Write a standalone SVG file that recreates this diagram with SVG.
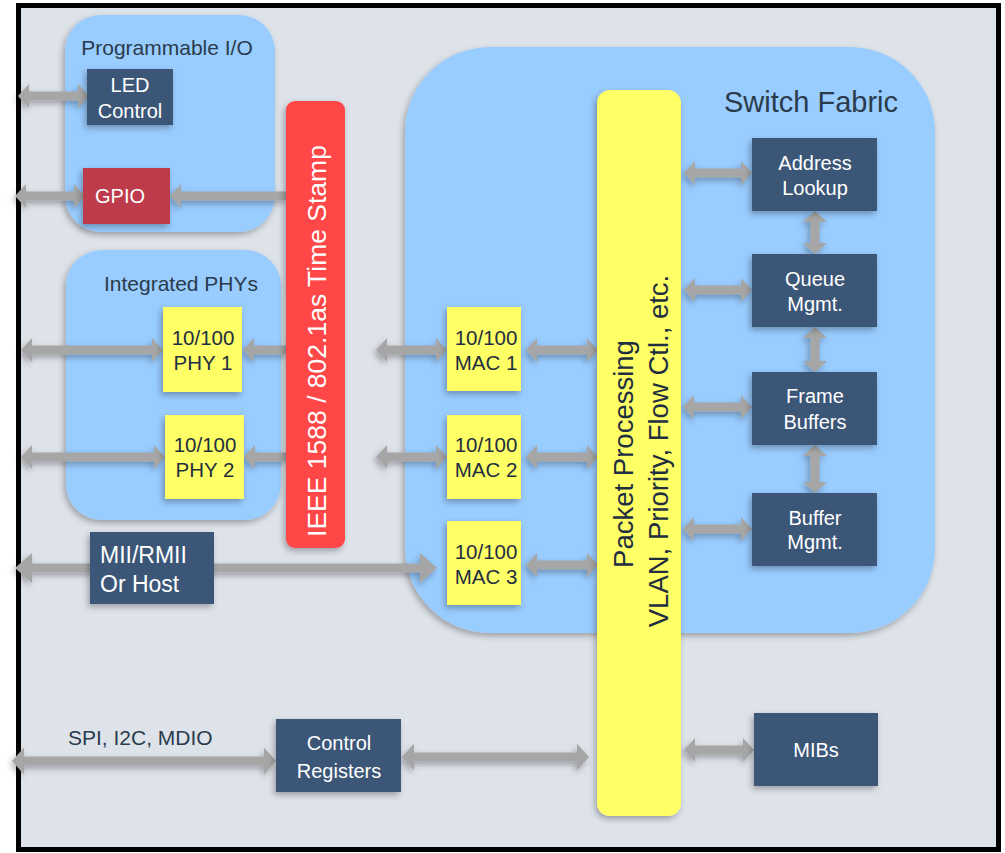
<svg xmlns="http://www.w3.org/2000/svg" width="1005" height="853" viewBox="0 0 1005 853">
<defs>
<filter id="sh" x="-20%" y="-20%" width="140%" height="140%">
<feDropShadow dx="-2" dy="3" stdDeviation="3" flood-color="#000" flood-opacity="0.3"/>
</filter>
<marker id="ah" markerUnits="userSpaceOnUse" viewBox="0 0 11 24" refX="0" refY="12" markerWidth="11" markerHeight="24" orient="auto-start-reverse"><path d="M0,0 L11,12 L0,24 Z" fill="#a6a6a6"/></marker>
<marker id="ahM" markerUnits="userSpaceOnUse" viewBox="0 0 12 27" refX="0" refY="13.5" markerWidth="12" markerHeight="27" orient="auto-start-reverse"><path d="M0,0 L12,13.5 L0,27 Z" fill="#a6a6a6"/></marker>
<marker id="ahL" markerUnits="userSpaceOnUse" viewBox="0 0 17 30" refX="0" refY="15" markerWidth="17" markerHeight="30" orient="auto-start-reverse"><path d="M0,0 L17,15 L0,30 Z" fill="#a6a6a6"/></marker>
</defs>
<style>
text{font-family:"Liberation Sans",Arial,Helvetica,sans-serif}
.cont{fill:#99ccff;filter:url(#sh)}
.dk{fill:#3b5777;filter:url(#sh)}
.yl{fill:#ffff66;filter:url(#sh)}
.tw{fill:#ffffff;font-size:20px;text-anchor:middle}
.td{fill:#1f2f40;font-size:20.5px;text-anchor:middle}
.ttl{fill:#2a3b4c}
.a{stroke:#a6a6a6;stroke-width:9;fill:none}
.aD{marker-start:url(#ah);marker-end:url(#ah)}
.aS{marker-end:url(#ah)}
</style>
<rect x="18.5" y="5.5" width="980" height="844" fill="#dee3ea" stroke="#000" stroke-width="5"/>

<g id="programmable-io">
<rect class="cont" x="65" y="15" width="210" height="217" rx="36"/>
<text class="ttl" x="167" y="55" font-size="21" text-anchor="middle">Programmable I/O</text>
</g>
<g id="integrated-phys">
<rect class="cont" x="66" y="250" width="215" height="270" rx="36"/>
<text class="ttl" x="181" y="291" font-size="21" text-anchor="middle">Integrated PHYs</text>
</g>
<g id="switch-fabric">
<rect class="cont" x="405" y="47" width="530" height="586" rx="85"/>
<text class="ttl" x="724" y="112" font-size="29">Switch Fabric</text>
</g>

<g id="connectors" filter="url(#sh)">
<line class="a aD" x1="29" y1="96" x2="78" y2="96"/>
<line class="a aD" x1="26" y1="196" x2="74" y2="196"/>
<line class="a aS" x1="287" y1="196" x2="181" y2="196"/>
<line class="a aD" x1="32" y1="350" x2="152" y2="350"/>
<line class="a aS" x1="287" y1="350" x2="254" y2="350"/>
<line class="a aD" x1="32" y1="457" x2="154" y2="457"/>
<line class="a aS" x1="287" y1="457" x2="255" y2="457"/>
<line class="a aD" x1="387" y1="350" x2="436" y2="350"/>
<line class="a aD" x1="387" y1="457" x2="436" y2="457"/>
<line class="a aD" x1="537" y1="350" x2="587" y2="350"/>
<line class="a aD" x1="537" y1="457" x2="587" y2="457"/>
<line class="a aD" x1="537" y1="565" x2="587" y2="565"/>
<line class="a aD" x1="695" y1="173" x2="741" y2="173"/>
<line class="a aD" x1="695" y1="290" x2="741" y2="290"/>
<line class="a aD" x1="694" y1="407" x2="741" y2="407"/>
<line class="a aD" x1="694" y1="529" x2="741" y2="529"/>
<line class="a aD" x1="815" y1="222" x2="815" y2="243"/>
<line class="a aD" x1="815" y1="338" x2="815" y2="361"/>
<line class="a aD" x1="815" y1="456" x2="815" y2="482"/>
<line class="a aD" x1="695" y1="750" x2="743" y2="750"/>
<line class="a" stroke-width="14" marker-start="url(#ahL)" marker-end="url(#ahL)" x1="32" y1="568" x2="420" y2="568"/>
<line class="a" stroke-width="14" marker-start="url(#ahM)" marker-end="url(#ahM)" x1="24" y1="761" x2="264" y2="761"/>
<line class="a" stroke-width="13" marker-start="url(#ahM)" marker-end="url(#ahM)" x1="414" y1="757" x2="577" y2="757"/>
</g>

<g id="ieee-1588">
<rect x="286" y="101" width="59" height="447" rx="9" fill="#ff4646" filter="url(#sh)"/>
<text transform="translate(326,341) rotate(-90)" fill="#ffffff" font-size="26.5" text-anchor="middle">IEEE 1588 / 802.1as Time Stamp</text>
</g>
<g id="packet-processing">
<rect class="yl" x="597" y="90" width="84" height="726" rx="13"/>
<text transform="translate(633,454) rotate(-90)" fill="#1f2f40" font-size="27.5" text-anchor="middle">Packet Processing</text>
<text transform="translate(668,451) rotate(-90)" fill="#1f2f40" font-size="27.5" text-anchor="middle">VLAN, Priority, Flow Ctl., etc.</text>
</g>

<g id="led-control">
<rect class="dk" x="87" y="69" width="86" height="56"/>
<text class="tw" x="130" y="92">LED</text>
<text class="tw" x="130" y="118">Control</text>
</g>
<g id="gpio">
<rect x="83" y="168" width="87" height="56" fill="#be3b4b" filter="url(#sh)"/>
<text class="tw" x="120" y="203">GPIO</text>
</g>
<g id="phy1">
<rect class="yl" x="163" y="307" width="79" height="85"/>
<text class="td" x="203" y="345">10/100</text>
<text class="td" x="203" y="370">PHY 1</text>
</g>
<g id="phy2">
<rect class="yl" x="165" y="415" width="79" height="84"/>
<text class="td" x="205" y="452">10/100</text>
<text class="td" x="205" y="477">PHY 2</text>
</g>
<g id="mii-rmii">
<rect class="dk" x="90" y="532" width="124" height="72"/>
<text x="100" y="563" fill="#ffffff" font-size="23">MII/RMII</text>
<text x="100" y="592" fill="#ffffff" font-size="23">Or Host</text>
</g>
<g id="mac1">
<rect class="yl" x="447" y="307" width="74" height="84"/>
<text class="td" x="486" y="345">10/100</text>
<text class="td" x="486" y="370">MAC 1</text>
</g>
<g id="mac2">
<rect class="yl" x="447" y="415" width="74" height="84"/>
<text class="td" x="486" y="452">10/100</text>
<text class="td" x="486" y="477">MAC 2</text>
</g>
<g id="mac3">
<rect class="yl" x="447" y="521" width="74" height="84"/>
<text class="td" x="486" y="559">10/100</text>
<text class="td" x="486" y="584">MAC 3</text>
</g>
<g id="address-lookup">
<rect class="dk" x="752" y="138" width="125" height="73"/>
<text class="tw" x="815" y="170">Address</text>
<text class="tw" x="815" y="195">Lookup</text>
</g>
<g id="queue-mgmt">
<rect class="dk" x="752" y="254" width="125" height="73"/>
<text class="tw" x="815" y="286">Queue</text>
<text class="tw" x="815" y="311">Mgmt.</text>
</g>
<g id="frame-buffers">
<rect class="dk" x="752" y="372" width="125" height="73"/>
<text class="tw" x="815" y="403">Frame</text>
<text class="tw" x="815" y="429">Buffers</text>
</g>
<g id="buffer-mgmt">
<rect class="dk" x="752" y="493" width="125" height="73"/>
<text class="tw" x="815" y="525">Buffer</text>
<text class="tw" x="815" y="549">Mgmt.</text>
</g>
<g id="mibs">
<rect class="dk" x="754" y="713" width="124" height="73"/>
<text class="tw" x="816" y="757">MIBs</text>
</g>
<g id="control-registers">
<rect class="dk" x="276" y="719" width="125" height="73"/>
<text class="tw" x="339" y="750" font-size="23">Control</text>
<text class="tw" x="339" y="778" font-size="23">Registers</text>
</g>
<g id="spi-label">
<text x="68" y="745" fill="#2a3b4c" font-size="21">SPI, I2C, MDIO</text>
</g>
</svg>
